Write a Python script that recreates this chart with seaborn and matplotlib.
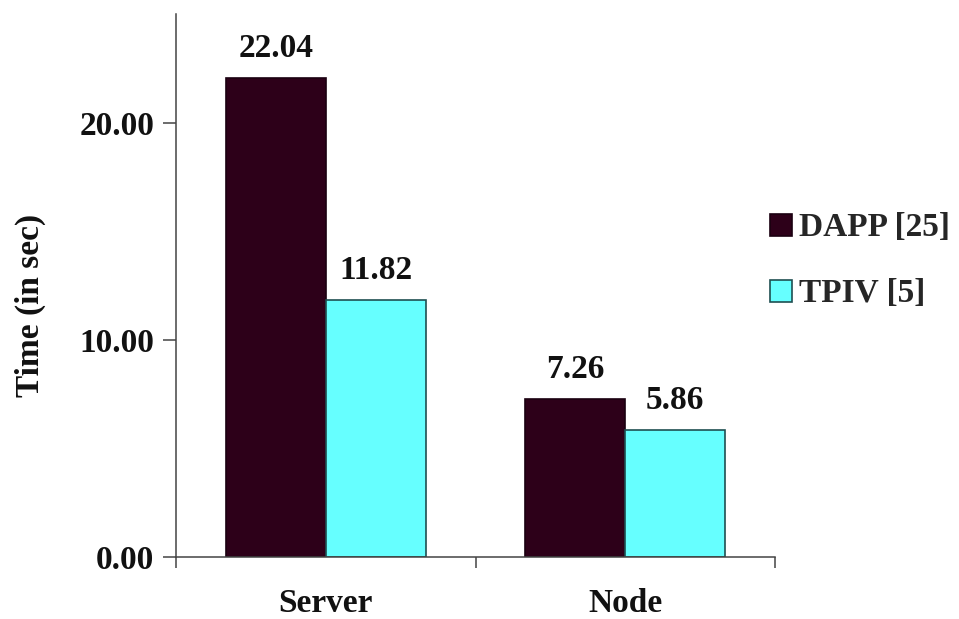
import matplotlib
matplotlib.use("Agg")
import matplotlib.pyplot as plt
import seaborn as sns
import pandas as pd

categories = ["Server", "Node"]
series_names = ["DAPP [25]", "TPIV [5]"]
dapp_times = [22.04, 7.26]
tpiv_times = [11.82, 5.86]
y_ticks = [0, 10, 20]
bar_colors = ["#2d0019", "#66ffff"]
edge_colors = ["#1a0010", "#1f4f52"]

df = pd.DataFrame({
    "Category": categories * 2,
    "Method": [series_names[0]] * len(categories) + [series_names[1]] * len(categories),
    "Time": dapp_times + tpiv_times,
})

sns.set_style("white")
plt.rcParams["font.family"] = ["Liberation Serif", "DejaVu Serif"]
plt.rcParams["font.weight"] = "bold"

FS = 24

fig = plt.figure(figsize=(9.59, 6.19), dpi=100)
ax = fig.add_axes([176 / 959, 1 - 557 / 619, 599 / 959, 543 / 619])

sns.barplot(data=df, x="Category", y="Time", hue="Method",
            palette=bar_colors, width=2 / 3, ax=ax, legend=True,
            linewidth=1.2, saturation=1)

for container, ec in zip(ax.containers, edge_colors):
    for patch in container:
        patch.set_edgecolor(ec)
    ax.bar_label(container, fmt="%.2f", padding=10, fontsize=FS,
                 fontweight="bold", color="#111111")

ax.set_xlim(-0.5, 1.5)
ax.set_ylim(0, 25)
ax.set_yticks(y_ticks)
ax.set_yticklabels([f"{v:.2f}" for v in y_ticks])
ax.set_xticks(range(len(categories)))
ax.set_xticklabels(categories)
ax.set_xticks([-0.5, 0.5, 1.5], minor=True)

ax.tick_params(axis="y", which="major", direction="out", length=9.5, width=1.1,
               color="#444444", pad=6, labelsize=FS, left=True)
ax.tick_params(axis="x", which="major", length=0, pad=22, labelsize=FS)
ax.tick_params(axis="x", which="minor", direction="out", length=8, width=1.1,
               color="#444444", bottom=True)
for lab in ax.get_xticklabels() + ax.get_yticklabels():
    lab.set_fontweight("bold")
    lab.set_color("#111111")

for side in ["top", "right"]:
    ax.spines[side].set_visible(False)
for side in ["left", "bottom"]:
    ax.spines[side].set_color("#444444")
    ax.spines[side].set_linewidth(1.1)

ax.set_xlabel("")
ax.set_ylabel("Time (in sec)", fontsize=FS, fontweight="bold", color="#111111")
ax.yaxis.set_label_coords(-0.217, 0.464)

handles, labels = ax.get_legend_handles_labels()
ax.get_legend().remove()
for h, ec in zip(handles, edge_colors):
    h.set_edgecolor(ec)
    h.set_linewidth(1.2)
fig.legend(handles, labels, loc="center left",
           bbox_to_anchor=(770 / 959, 1 - 261 / 619), frameon=False,
           borderpad=0, borderaxespad=0, handlelength=0.66, handleheight=0.66,
           handletextpad=0.2, labelspacing=1.05,
           prop={"size": FS, "weight": "bold"})

fig.savefig("out.png", dpi=100, facecolor="white")
